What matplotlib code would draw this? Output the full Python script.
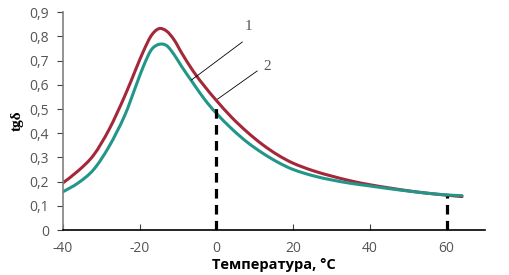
import numpy as np
import matplotlib.pyplot as plt
from matplotlib.path import Path
from matplotlib.patches import PathPatch

temp = [-40, -36, -32, -28, -24, -21, -19, -17, -15, -13, -11, -9, -6, -3, 0,
        4, 8, 12, 16, 20, 25, 30, 35, 40, 45, 50, 55, 60, 64]
tg_red = [0.195, 0.245, 0.31, 0.415, 0.55, 0.665, 0.74, 0.803, 0.832, 0.822, 0.785, 0.73, 0.655, 0.592, 0.535,
          0.465, 0.405, 0.353, 0.31, 0.276, 0.246, 0.223, 0.203, 0.187, 0.174, 0.162, 0.152, 0.144, 0.138]
tg_teal = [0.158, 0.195, 0.25, 0.345, 0.47, 0.595, 0.678, 0.744, 0.767, 0.762, 0.724, 0.674, 0.605, 0.538, 0.482,
           0.418, 0.363, 0.318, 0.28, 0.25, 0.225, 0.207, 0.193, 0.182, 0.171, 0.161, 0.152, 0.145, 0.142]

mark_x = [0, 60]
mark_top = [0.525, 0.14]

xticks = [-40, -20, 0, 20, 40, 60]
yticks = [0, 0.1, 0.2, 0.3, 0.4, 0.5, 0.6, 0.7, 0.8, 0.9]


def smooth_path(xs, ys):
    # Catmull-Rom -> cubic Bezier segments, drawn by matplotlib
    pts = np.column_stack([np.asarray(xs, float), np.asarray(ys, float)])
    verts = [pts[0]]
    codes = [Path.MOVETO]
    n = len(pts)
    for i in range(n - 1):
        p0 = pts[max(i - 1, 0)]
        p1 = pts[i]
        p2 = pts[i + 1]
        p3 = pts[min(i + 2, n - 1)]
        verts += [p1 + (p2 - p0) / 6, p2 - (p3 - p1) / 6, p2]
        codes += [Path.CURVE4] * 3
    return Path(verts, codes)


fig = plt.figure(figsize=(5.1, 2.75), dpi=100)
ax = fig.add_axes([0.1235, 0.1636, 0.8275, 0.792])

for ys, col in [(tg_red, "#A3283A"), (tg_teal, "#23968A")]:
    ax.add_patch(PathPatch(smooth_path(temp, ys), facecolor="none", edgecolor=col,
                           lw=2.2, capstyle="round"))

for mx, mt in zip(mark_x, mark_top):
    ax.plot([mx, mx], [0, mt], color="black", lw=2.3, dashes=(3, 2))

ax.set_xlim(-40, 70)
ax.set_ylim(0, 0.9)
ax.set_xticks(xticks)
ax.set_yticks(yticks)
ax.set_xticklabels([str(t) for t in xticks])
ax.set_yticklabels(["0"] + [f"{t:.1f}".replace(".", ",") for t in yticks[1:]])

ax.spines["top"].set_visible(False)
ax.spines["right"].set_visible(False)
ax.spines["left"].set_color("#808080")
ax.spines["left"].set_linewidth(1.2)
ax.spines["bottom"].set_color("black")
ax.spines["bottom"].set_linewidth(1.2)
ax.tick_params(axis="x", direction="in", length=4, colors="#404040", labelsize=10, pad=8)
ax.tick_params(axis="y", direction="out", length=4, colors="#404040", labelsize=10, pad=6)
for lab in ax.get_xticklabels() + ax.get_yticklabels():
    lab.set_color("#555555")
    lab.set_family("Open Sans")

ax.set_xlabel("Температура, °С", fontsize=10.5, fontweight="bold", family="Open Sans", labelpad=1)
ax.set_ylabel("tgδ", fontsize=11, fontweight="bold", family="Liberation Serif", labelpad=4)

# выноски
ax.plot([6.75, -6.5], [0.777, 0.62], color="black", lw=0.6)
ax.plot([10.6, 0.3], [0.657, 0.541], color="black", lw=0.6)
ax.text(8.3, 0.84, "1", fontsize=11, family="Liberation Serif", color="#555555", ha="center", va="center")
ax.text(13.2, 0.674, "2", fontsize=11, family="Liberation Serif", color="#555555", ha="center", va="center")

fig.savefig("out.png", dpi=100)
